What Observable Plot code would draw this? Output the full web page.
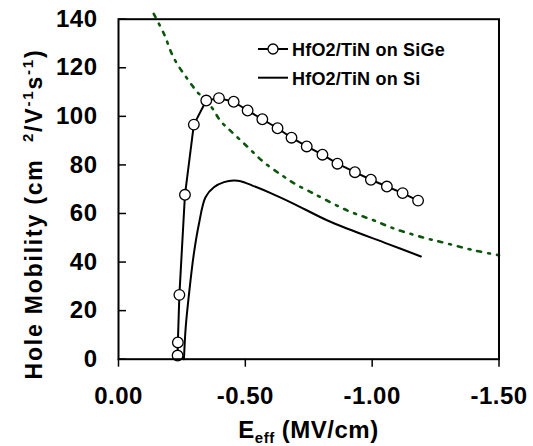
<!DOCTYPE html>
<html><head><meta charset="utf-8">
<script src="https://cdn.jsdelivr.net/npm/d3@7"></script>
<script src="https://cdn.jsdelivr.net/npm/@observablehq/plot@0.6"></script>
<style>body{margin:0;background:#fff} #chart{width:533px;height:446px}</style>
</head><body><div id="chart"></div>
<script>
// HfO2/TiN on SiGe (circles)
const sigeE  = [-0.233, -0.234, -0.240, -0.262, -0.297, -0.346, -0.396, -0.454, -0.509, -0.567, -0.627, -0.682, -0.742, -0.804, -0.863, -0.932, -0.995, -1.058, -1.120, -1.181];
const sigeMu = [1.5, 6.9, 26.5, 67.7, 96.6, 106.5, 107.5, 106.0, 102.4, 98.8, 95.1, 91.2, 87.6, 84.2, 80.5, 77.0, 73.9, 71.1, 68.4, 65.3];
// HfO2/TiN on Si (solid line)
const siE  = [-0.258, -0.265, -0.278, -0.297, -0.317, -0.343, -0.376, -0.416, -0.455, -0.482, -0.528, -0.600, -0.679, -0.824, -0.903, -1.061, -1.192];
const siMu = [0, 13.2, 26.9, 43.4, 55.7, 66.7, 70.8, 72.9, 73.6, 73.3, 71.5, 68.4, 64.6, 57.1, 53.7, 47.5, 42.3];
// dotted reference (universal) curve
const univE  = [-0.139, -0.179, -0.218, -0.271, -0.311, -0.365, -0.403, -0.442, -0.508, -0.574, -0.646, -0.699, -0.758, -0.797, -0.903, -1.008, -1.061, -1.100, -1.205, -1.271, -1.403, -1.500];
const univMu = [142.2, 134, 124, 115.5, 110, 104, 98, 94, 87.5, 81, 75.6, 72, 68.8, 66.7, 61.2, 57.1, 54.8, 53.3, 50.0, 48.3, 44.8, 42.8];

const xTicks = [0, -0.5, -1.0, -1.5];
const xTickLabels = ["0.00", "-0.50", "-1.00", "-1.50"];
const yTicks = [0, 20, 40, 60, 80, 100, 120, 140];
const seriesNames = ["HfO2/TiN on SiGe", "HfO2/TiN on Si"];

const FONT = "'Liberation Sans', Arial, Helvetica, sans-serif";
const sige = sigeE.map((e, i) => ({e, mu: sigeMu[i]}));
const si = siE.map((e, i) => ({e, mu: siMu[i]}));
const univ = univE.map((e, i) => ({e, mu: univMu[i]}));

const plot = Plot.plot({
  width: 533, height: 446,
  marginLeft: 118, marginRight: 34.5, marginTop: 18.7, marginBottom: 87.3,
  style: {fontFamily: FONT, fontWeight: "bold", fontSize: "24px", color: "#000", background: "#fff", letterSpacing: "0.5px"},
  x: {domain: [0, -1.5]},
  y: {domain: [0, 140]},
  marks: [
    Plot.line(univ, {x: "e", y: "mu", stroke: "#0b560b", strokeWidth: 2.6, strokeDasharray: "4,7,2,7", curve: "catmull-rom"}),
    Plot.line(si, {x: "e", y: "mu", stroke: "#000", strokeWidth: 2, curve: "catmull-rom"}),
    Plot.line(sige, {x: "e", y: "mu", stroke: "#000", strokeWidth: 2}),
    Plot.dot(sige, {x: "e", y: "mu", r: 5.3, fill: "#fff", stroke: "#000", strokeWidth: 1.3}),
    Plot.frame({stroke: "#000", strokeWidth: 2}),
    Plot.axisX({ticks: xTicks, tickSize: 8, tickPadding: 20, strokeWidth: 1.5, tickFormat: d => xTickLabels[xTicks.indexOf(d)], label: null, fontSize: 24}),
    Plot.axisY({ticks: yTicks, tickSize: 0, tickPadding: 21, tickFormat: d => String(d), label: null, fontSize: 24}),
    Plot.axisY({ticks: yTicks, tickSize: 8, dx: 8, strokeWidth: 1.5, tickFormat: () => "", label: null})
  ]
});
document.getElementById("chart").appendChild(plot);

const svg = d3.select(plot);
// legend
const leg = svg.append("g").attr("font-family", FONT).attr("font-weight", "bold").attr("font-size", 18)
  .attr("text-anchor", "start").style("letter-spacing", "0.2px");
const rows = [{y: 49, marker: true}, {y: 77.7, marker: false}];
rows.forEach((r, i) => {
  leg.append("line").attr("x1", 258).attr("x2", 288).attr("y1", r.y).attr("y2", r.y).attr("stroke", "#000").attr("stroke-width", 2);
  if (r.marker) leg.append("circle").attr("cx", 273).attr("cy", r.y).attr("r", 5).attr("fill", "#fff").attr("stroke", "#000").attr("stroke-width", 1.3);
  leg.append("text").attr("x", 292).attr("y", r.y + 7).attr("text-anchor", "start").text(seriesNames[i]);
});
// x label
const xl = svg.append("text").attr("x", 308.5).attr("y", 438).attr("text-anchor", "middle")
  .attr("font-family", FONT).attr("font-weight", "bold").attr("font-size", 24).style("letter-spacing", "0.5px");
xl.append("tspan").text("E");
xl.append("tspan").attr("font-size", 15).attr("dy", 5).text("eff");
xl.append("tspan").attr("dy", -5).text(" (MV/cm)");
// y label
const yl = svg.append("text").attr("transform", "translate(41.5,214) rotate(-90)").attr("text-anchor", "middle")
  .attr("font-family", FONT).attr("font-weight", "bold").attr("font-size", 23).style("letter-spacing", "1.8px").style("white-space", "pre");
yl.append("tspan").text("Hole Mobility (cm  ");
yl.append("tspan").attr("font-size", 15).attr("dy", -9).text("2");
yl.append("tspan").attr("dy", 9).text("/V");
yl.append("tspan").attr("font-size", 15).attr("dy", -9).text("-1");
yl.append("tspan").attr("dy", 9).text("s");
yl.append("tspan").attr("font-size", 15).attr("dy", -9).text("-1");
yl.append("tspan").attr("dy", 9).text(")");
</script>
</body></html>
